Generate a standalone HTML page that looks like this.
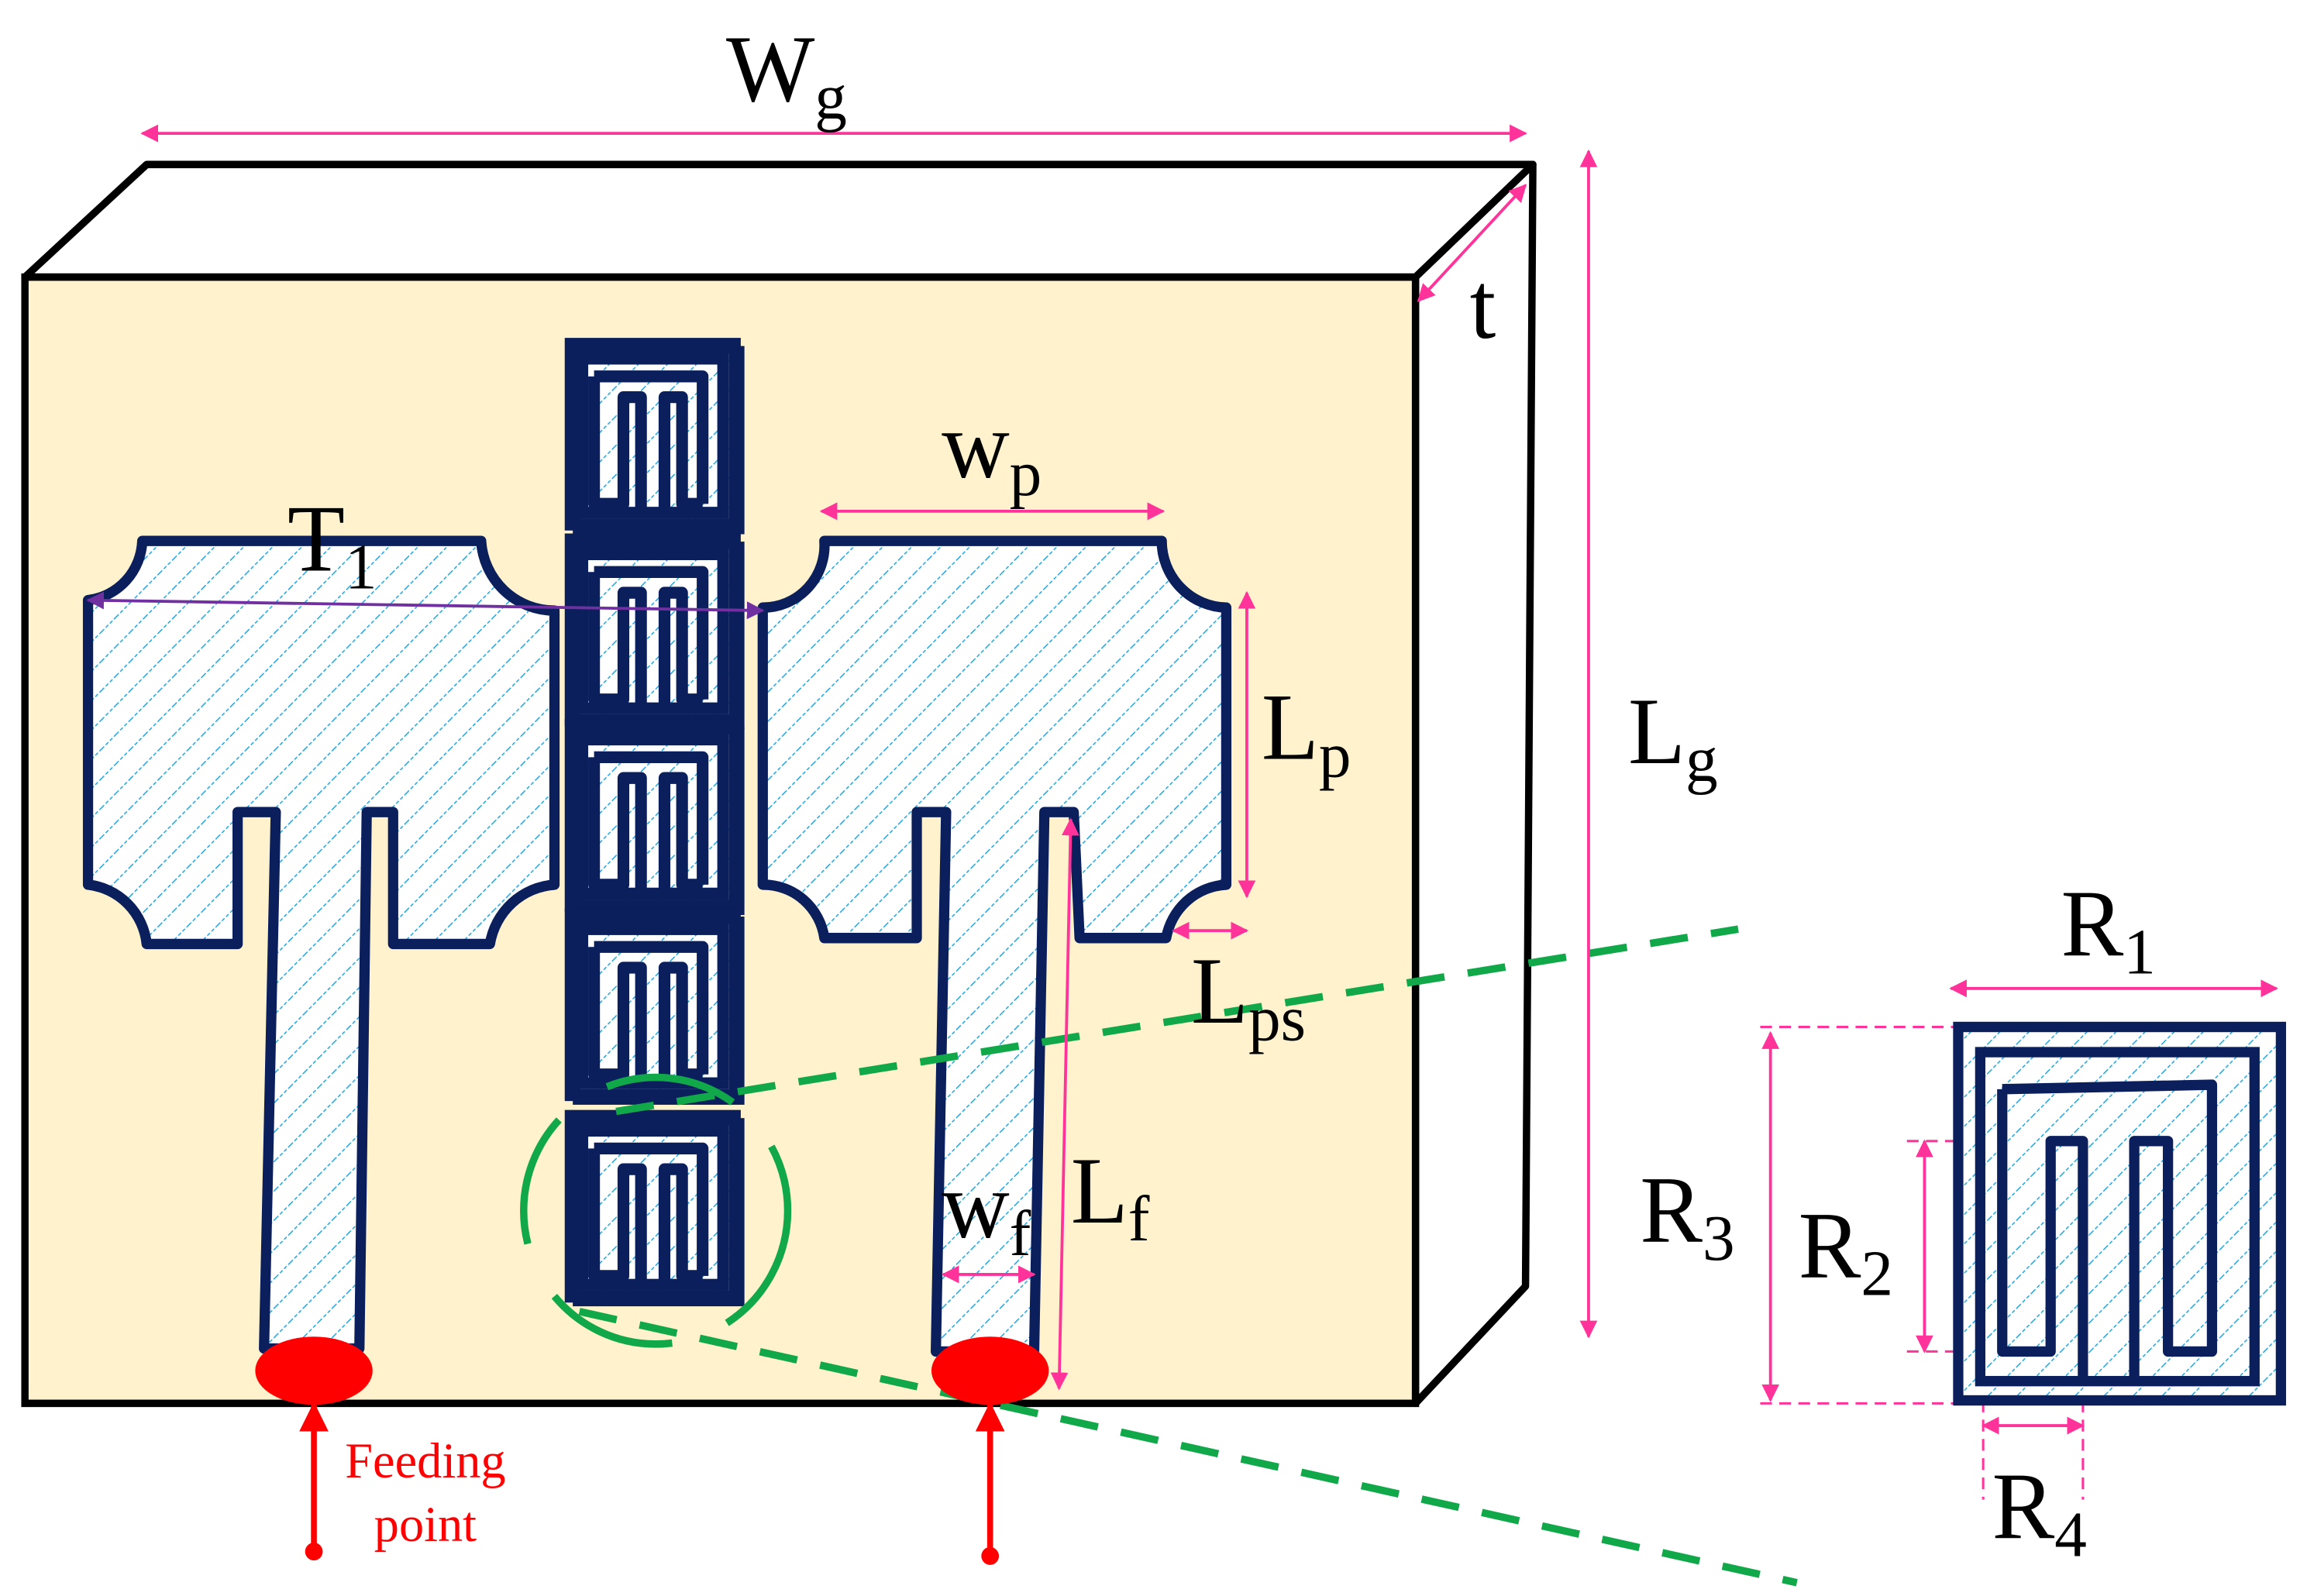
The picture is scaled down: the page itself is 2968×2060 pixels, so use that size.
<!DOCTYPE html>
<html><head><meta charset="utf-8"><style>html,body{margin:0;padding:0;background:#fff}svg{display:block}text{font-family:"Liberation Serif",serif}</style></head>
<body>
<svg width="2968" height="2060" viewBox="0 0 1568 1077" preserveAspectRatio="none" xmlns="http://www.w3.org/2000/svg">
<defs>
<pattern id="h" width="14" height="14" patternUnits="userSpaceOnUse" patternTransform="rotate(45)">
<rect width="14" height="14" fill="#fff"/>
<line x1="0" y1="0" x2="0" y2="14" stroke="#1ea8e8" stroke-width="1.6" stroke-dasharray="2.5 1.5"/>
</pattern>
<marker id="pa" viewBox="0 0 10 10" refX="9" refY="5" markerWidth="6" markerHeight="6" orient="auto-start-reverse"><path d="M0,0 L10,5 L0,10 Z" fill="#ff3399"/></marker>
<marker id="pu" viewBox="0 0 10 10" refX="9" refY="5" markerWidth="6" markerHeight="6" orient="auto-start-reverse"><path d="M0,0 L10,5 L0,10 Z" fill="#7030a0"/></marker>
<marker id="ra" viewBox="0 0 10 10" refX="9" refY="5" markerWidth="5" markerHeight="5" orient="auto"><path d="M0,0 L10,5 L0,10 Z" fill="#ff0000"/></marker>
<g id="cell">
<rect x="0" y="0" width="112" height="122" fill="url(#h)" stroke="#0a1f5c" stroke-width="8"/>
<rect x="8" y="10" width="96" height="104" fill="none" stroke="#0a1f5c" stroke-width="8"/>
<path d="M16,22 L90,22 L90,108 M16,22 L16,108 L36,108 L36,36 L48,36 L48,112 M64,112 L64,36 L76,36 L76,108 L90,108" fill="none" stroke="#0a1f5c" stroke-width="8" stroke-linejoin="round"/>
<rect x="4" y="4" width="112" height="122" fill="none" stroke="#0a1f5c" stroke-width="5"/>
</g>
</defs>
<polygon points="17,187 100,111 1045,111 965,187" fill="#fff" stroke="#000" stroke-width="5" stroke-linejoin="round"/>
<polygon points="965,187 1045,111 1040,868 965,947" fill="#fff" stroke="#000" stroke-width="5" stroke-linejoin="round"/>
<rect x="17" y="187" width="948" height="760" fill="#fff2cc" stroke="#000" stroke-width="5"/>
<path d="M97,365 L328,365 A50,50 0 0 0 378,412 L378,597 A48,48 0 0 0 334,637 L268,637 L268,548 L250,548 L245,910 L180,910 L188,548 L162,548 L162,637 L100,637 A45,45 0 0 0 60,597 L60,405 A42,42 0 0 0 97,365 Z" fill="url(#h)" stroke="#0a1f5c" stroke-width="7" stroke-linejoin="round"/>
<path d="M562,365 L792,365 A45,45 0 0 0 836,410 L836,597 A44,44 0 0 0 795,633 L736,633 L732,548 L712,548 L705,912 L638,912 L645,548 L625,548 L625,633 L562,633 A42,42 0 0 0 520,597 L520,410 A42,42 0 0 0 562,365 Z" fill="url(#h)" stroke="#0a1f5c" stroke-width="7" stroke-linejoin="round"/>
<use href="#cell" x="389" y="232"/>
<use href="#cell" x="389" y="364"/>
<use href="#cell" x="389" y="489"/>
<use href="#cell" x="389" y="617"/>
<use href="#cell" x="389" y="753"/>
<g stroke="#11a84a" stroke-width="5" fill="none" stroke-dasharray="26 16">
<line x1="420" y1="750" x2="1185" y2="627"/>
<line x1="395" y1="885" x2="1225" y2="1068"/>
<circle cx="447" cy="817" r="90" stroke-dasharray="90 40"/>
</g>
<ellipse cx="214" cy="925" rx="40" ry="23" fill="#ff0000"/>
<ellipse cx="675" cy="925" rx="40" ry="23" fill="#ff0000"/>
<line x1="214" y1="1047" x2="214" y2="948" stroke="#ff0000" stroke-width="4" marker-end="url(#ra)"/>
<line x1="675" y1="1050" x2="675" y2="948" stroke="#ff0000" stroke-width="4" marker-end="url(#ra)"/>
<circle cx="214" cy="1047" r="6" fill="#ff0000"/><circle cx="675" cy="1050" r="6" fill="#ff0000"/>
<text x="290" y="997" fill="#ff0000" font-size="34" text-anchor="middle">Feeding</text>
<text x="290" y="1040" fill="#ff0000" font-size="34" text-anchor="middle">point</text>
<g stroke="#ff3399" stroke-width="2" fill="none">
<line x1="97" y1="90" x2="1040" y2="90" marker-start="url(#pa)" marker-end="url(#pa)"/>
<line x1="1083" y1="102" x2="1083" y2="902" marker-start="url(#pa)" marker-end="url(#pa)"/>
<line x1="967" y1="203" x2="1040" y2="125" marker-start="url(#pa)" marker-end="url(#pa)"/>
<line x1="560" y1="345" x2="793" y2="345" marker-start="url(#pa)" marker-end="url(#pa)"/>
<line x1="850" y1="400" x2="850" y2="605" marker-start="url(#pa)" marker-end="url(#pa)"/>
<line x1="800" y1="628" x2="850" y2="628" marker-start="url(#pa)" marker-end="url(#pa)"/>
<line x1="730" y1="553" x2="722" y2="937" marker-start="url(#pa)" marker-end="url(#pa)"/>
<line x1="643" y1="860" x2="705" y2="860" marker-start="url(#pa)" marker-end="url(#pa)"/>
<line x1="1330" y1="667" x2="1552" y2="667" marker-start="url(#pa)" marker-end="url(#pa)"/>
<line x1="1207" y1="697" x2="1207" y2="945" marker-start="url(#pa)" marker-end="url(#pa)"/>
<line x1="1312" y1="770" x2="1312" y2="912" marker-start="url(#pa)" marker-end="url(#pa)"/>
<line x1="1352" y1="962" x2="1420" y2="962" marker-start="url(#pa)" marker-end="url(#pa)"/>
<g stroke-dasharray="8 5" stroke-width="1.6">
<line x1="1200" y1="693" x2="1335" y2="693"/><line x1="1200" y1="947" x2="1335" y2="947"/>
<line x1="1300" y1="770" x2="1398" y2="770"/><line x1="1300" y1="912" x2="1398" y2="912"/>
<line x1="1352" y1="945" x2="1352" y2="1012"/><line x1="1420" y1="945" x2="1420" y2="1012"/>
</g>
</g>
<line x1="60" y1="405" x2="520" y2="412" stroke="#7030a0" stroke-width="2" marker-start="url(#pu)" marker-end="url(#pu)"/>
<rect x="1335" y="693" width="220" height="252" fill="url(#h)" stroke="#0a1f5c" stroke-width="7"/>
<rect x="1350" y="710" width="187" height="222" fill="none" stroke="#0a1f5c" stroke-width="7"/>
<path d="M1365,735 L1508,732 L1508,912 L1478,912 L1478,770 L1455,770 L1455,932 M1365,735 L1365,912 L1398,912 L1398,770 L1420,770 L1420,932" fill="none" stroke="#0a1f5c" stroke-width="7" stroke-linejoin="round"/>
<g fill="#000" font-size="64">
<text x="495" y="68">W<tspan font-size="44" dy="12">g</tspan></text>
<text x="1110" y="515">L<tspan font-size="44" dy="12">g</tspan></text>
<text x="1002" y="228">t</text>
<text x="642" y="322">w<tspan font-size="44" dy="12">p</tspan></text>
<text x="860" y="512">L<tspan font-size="44" dy="12">p</tspan></text>
<text x="812" y="690">L<tspan font-size="44" dy="12">ps</tspan></text>
<text x="730" y="825">L<tspan font-size="44" dy="12">f</tspan></text>
<text x="642" y="835">w<tspan font-size="44" dy="12">f</tspan></text>
<text x="196" y="385">T<tspan font-size="44" dy="12">1</tspan></text>
<text x="1405" y="645">R<tspan font-size="44" dy="12">1</tspan></text>
<text x="1118" y="838">R<tspan font-size="44" dy="12">3</tspan></text>
<text x="1226" y="862">R<tspan font-size="44" dy="12">2</tspan></text>
<text x="1358" y="1038">R<tspan font-size="44" dy="12">4</tspan></text>
</g>
</svg>
</body></html>
